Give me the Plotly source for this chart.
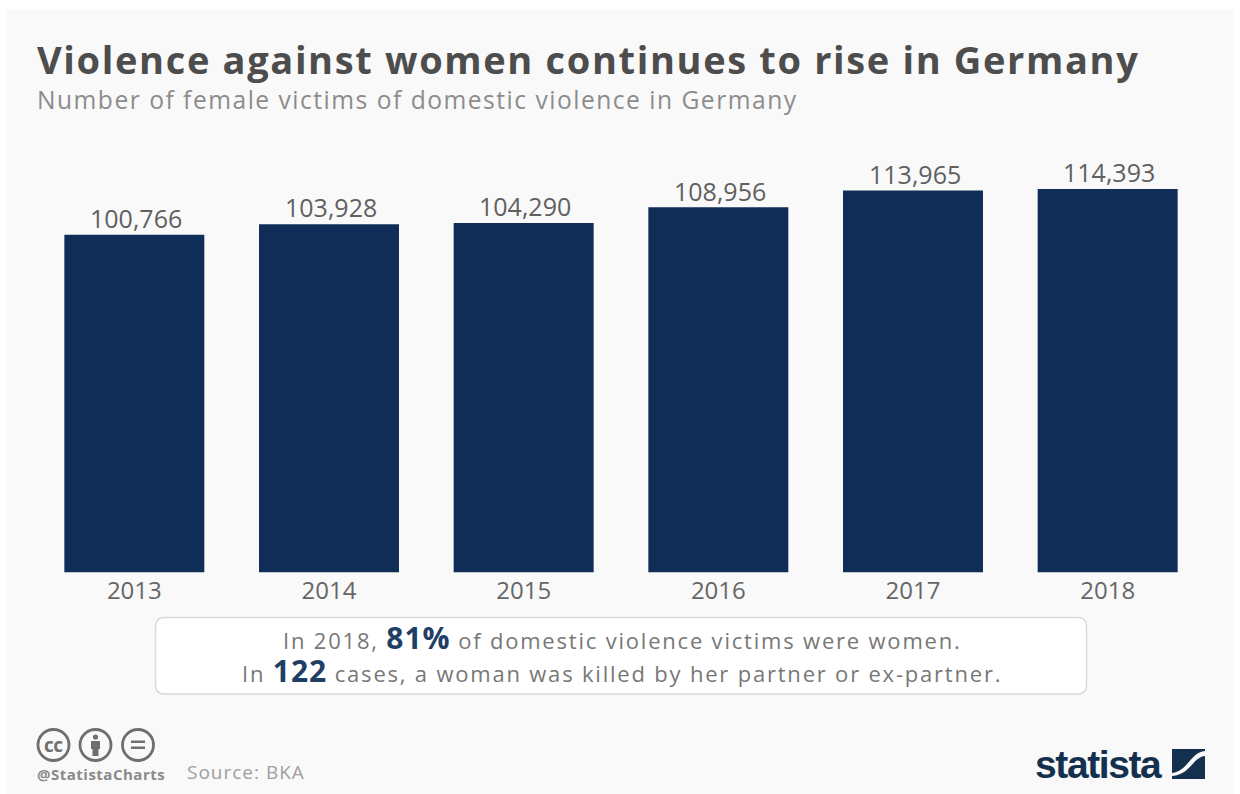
import plotly.graph_objects as go

# Chart data
years = ["2013", "2014", "2015", "2016", "2017", "2018"]
victims = [100766, 103928, 104290, 108956, 113965, 114393]

TITLE = "Violence against women continues to rise in Germany"
SUBTITLE = "Number of female victims of domestic violence in Germany"
NOTE_PARTS = [
    ("In 2018, ", "81%", " of domestic violence victims were women."),
    ("In ", "122", " cases, a woman was killed by her partner or ex-partner."),
]
SOURCE = "Source: BKA"
HANDLE = "@StatistaCharts"
BRAND = "statista"

W, H = 1240, 794
FONT = "Open Sans"
NAVY = "#0f2d56"
GREY = "#666666"
BADGE = "#6f6f6f"
LOGO = "#14304f"


def fx(px):
    return px / W


def fy(py):
    return 1 - py / H


def spaced(text, spacing):
    return f'<span style="letter-spacing:{spacing}px">{text}</span>'


def label(px, py, text, size, color, anchor="left", family=FONT):
    return dict(
        x=fx(px), y=fy(py), xref="paper", yref="paper", text=text, showarrow=False,
        xanchor=anchor, yanchor="middle", align=anchor,
        font=dict(family=family, size=size, color=color),
    )


def note_line(parts):
    before, figure, after = parts
    emphasis = f'<span style="font-size:30px;fill:#1f3f66;letter-spacing:1px"><b>{figure}</b></span>'
    return spaced(before, 1.8) + emphasis + spaced(after, 1.8)


def circle(cx, cy, r, line=None, fill="rgba(0,0,0,0)", width=2.8):
    return dict(
        type="circle", xref="paper", yref="paper",
        x0=fx(cx - r), x1=fx(cx + r), y0=fy(cy + r), y1=fy(cy - r),
        line=dict(color=line, width=width) if line else dict(width=0), fillcolor=fill,
    )


def box(x0, y0, x1, y1, fill):
    return dict(
        type="rect", xref="paper", yref="paper",
        x0=fx(x0), x1=fx(x1), y0=fy(y1), y1=fy(y0),
        line=dict(width=0), fillcolor=fill,
    )


def rounded(x0, y0, x1, y1, r):
    a, b, c, d = fx(x0), fx(x1), fy(y0), fy(y1)
    rx, ry = r / W, r / H
    return (
        f"M{a + rx},{c} L{b - rx},{c} Q{b},{c} {b},{c - ry} L{b},{d + ry} Q{b},{d} {b - rx},{d} "
        f"L{a + rx},{d} Q{a},{d} {a},{d + ry} L{a},{c - ry} Q{a},{c} {a + rx},{c} Z"
    )


def outline(commands, fill):
    """Closed path from (command, x, y, ...) tuples given in pixels."""
    parts = []
    for cmd, *vals in commands:
        coords = [f"{fx(vals[i])},{fy(vals[i + 1])}" for i in range(0, len(vals), 2)]
        parts.append(cmd + " ".join(coords))
    return dict(type="path", xref="paper", yref="paper", path=" ".join(parts) + " Z",
                line=dict(width=0), fillcolor=fill)


fig = go.Figure(
    go.Bar(x=years, y=victims, marker=dict(color=NAVY, line=dict(width=0)), cliponaxis=False)
)

shapes = [
    # Card behind everything
    box(7, 10, 1233, 794, "#f9f9f9"),
    # Note box
    dict(type="path", xref="paper", yref="paper", path=rounded(155.5, 617.5, 1086.5, 694, 9),
         fillcolor="#ffffff", line=dict(color="#d9d9d9", width=1.5)),
    # Licence badges
    circle(53.5, 745, 15.5, BADGE),
    circle(95.5, 745, 15.5, BADGE),
    circle(138, 745, 15.5, BADGE),
    circle(95.5, 737, 2.6, None, BADGE),
    outline([("M", 91, 741), ("L", 100, 741), ("L", 100, 749), ("L", 98.5, 749), ("L", 98.5, 756),
             ("L", 92.5, 756), ("L", 92.5, 749), ("L", 91, 749)], BADGE),
    box(131, 740.5, 145, 743, BADGE),
    box(131, 746.5, 145, 749, BADGE),
    # Brand mark: two panels separated by an S-shaped band
    outline([("M", 1172, 749), ("L", 1205, 749), ("L", 1205, 751),
             ("C", 1191, 752, 1188, 771, 1172, 773)], LOGO),
    outline([("M", 1205, 756), ("C", 1193, 757, 1190, 775, 1172, 776),
             ("L", 1172, 779), ("L", 1205, 779)], LOGO),
]
for s in shapes[:2]:
    s["layer"] = "below"

# Value labels sit a fixed distance above their bars; x is the category position
value_labels = [
    dict(
        x=position, y=value, xref="x", yref="y", text=f"{value:,}", showarrow=False,
        xanchor="center", yanchor="middle", xshift=1.5, yshift=16.7,
        font=dict(family=FONT, size=25, color="#606060"),
    )
    for position, value in enumerate(victims)
]

annotations = value_labels + [
    label(35, 59.5, spaced(f"<b>{TITLE}</b>", 1.65), 38, "#4d4d4d"),
    label(35, 100, spaced(SUBTITLE, 1.5), 24.6, "#8c8c8c"),
    label(622, 637.5, note_line(NOTE_PARTS[0]), 22, "#777777", "center"),
    label(622, 670.5, note_line(NOTE_PARTS[1]), 22, "#777777", "center"),
    label(53.5, 744.5, spaced("<b>cc</b>", -0.5), 19, BADGE, "center"),
    label(35, 774, spaced(f"<b>{HANDLE}</b>", 0.5), 15, "#8a8a8a"),
    label(185, 772, spaced(SOURCE, 1), 19, "#a0a0a0"),
    label(1033, 764, spaced(f"<b>{BRAND}</b>", -1.4), 39, LOGO, family="Liberation Sans"),
]

fig.update_layout(
    width=W, height=H, margin=dict(l=0, r=0, t=0, b=0, autoexpand=False),
    paper_bgcolor="#ffffff", plot_bgcolor="rgba(0,0,0,0)",
    bargap=0.281, showlegend=False, shapes=shapes, annotations=annotations,
    xaxis=dict(
        domain=[fx(37), fx(1205)], type="category", range=[-0.5, 5.5],
        showgrid=False, zeroline=False, showline=False, ticks="", ticklabelstandoff=1,
        tickfont=dict(family=FONT, size=24, color=GREY),
    ),
    yaxis=dict(
        domain=[fy(572.5), fy(140)], range=[0, 129030], visible=False,
    ),
)

fig.write_html("out.html")
